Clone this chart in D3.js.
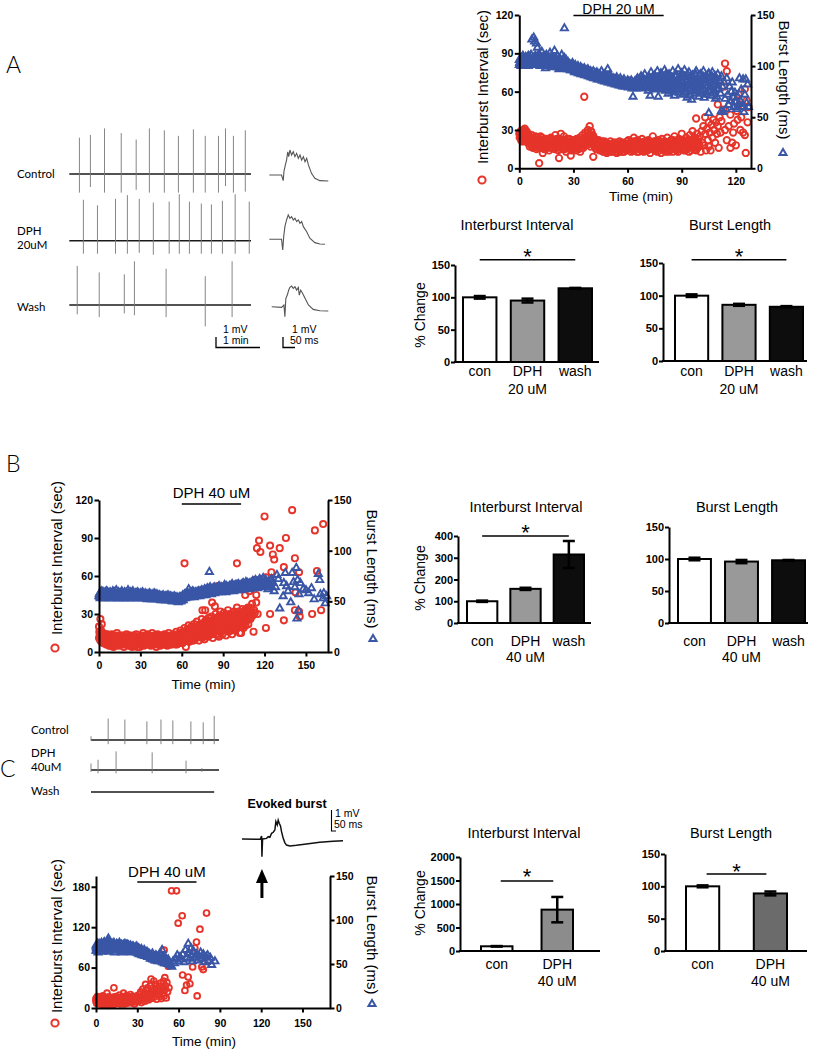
<!DOCTYPE html>
<html><head><meta charset="utf-8">
<script src="https://cdn.jsdelivr.net/npm/d3@7"></script>
<style>
body{margin:0;background:#fff;}
svg{display:block;}
.ax text{font-family:"Liberation Sans",Arial,sans-serif;font-weight:bold;fill:#000;}
</style></head><body>
<svg id="c" width="813" height="1050"></svg>
<script>
// ================= DATA =================
// Panel A time course: [time (min), interburst interval (sec)] and [time (min), burst length (ms)]
const scatterA_ibi = [[0,27],[0.5,25],[1,28],[1,22],[1.5,26],[2,29],[2,23],[2.5,27],[3,31],[3,24],[3.5,28],[4,21],[4,29],[4.5,25],[5,23],[5,27],
[5.5,20],[6,24],[6.5,18],[7,26],[7,21],[7.5,16],[8,23],[8.5,19],[9,25],[9.5,15],[10,21],[10.5,18],[11,4],[11,23],[11.5,16],[12,20],[12.5,24],[13,12],[13,17],[13.5,21],[14,19],[14.5,15],[15,23],[15.5,18],[16,21],[16.5,14],[17,19],[17.5,24],[18,16],[18.5,20],[19,22],[19.5,15],[20,26],[20.5,18],[21,20],[21.5,14],[22,8],[22,23],[22.5,17],[23,27],[23.5,19],[24,15],[24.5,22],[25,17],[25.5,20],[26,13],[26.5,23],[27,18],[27.5,16],[28,21],[28.5,10],[29,19],[29.5,15],[30,20],
[30.5,17],[31,22],[31.5,14],[32,19],[32.5,21],[33,15],[33.5,24],[34,18],[34.5,20],[35,26],[35.5,16],[36,56],[36,22],[36.5,28],[37,19],[37.5,25],[38,30],[38.5,21],[39,33],[39,26],[39.5,17],[40,28],[40.5,22],[41,9],[41,25],[41.5,18],[42,23],[42.5,15],[43,20],[43.5,17],[44,22],[44.5,14],[45,19],
[45.5,16],[46,21],[46.5,13],[47,18],[47.5,15],[48,20],[48.5,12],[49,17],[49.5,19],[50,14],[50.5,21],[51,16],[51.5,13],[52,18],[52.5,20],[53,15],[53.5,17],[54,12],[54.5,19],[55,16],[55.5,21],[56,14],[56.5,18],[57,15],[57.5,20],[58,13],[58.5,17],[59,19],[59.5,14],[60,18],
[60.5,22],[61,15],[61.5,19],[62,13],[62.5,21],[63,17],[63.5,24],[64,14],[64.5,19],[65,16],[65.5,22],[66,13],[66.5,18],[67,20],[67.5,15],[68,23],[68.5,17],[69,13],[69.5,21],[70,16],[70.5,19],[71,14],[71.5,22],[72,18],[72.5,12],[73,20],[73.5,16],[74,25],[74.5,18],[75,14],[75.5,21],[76,17],[76.5,13],[77,22],[77.5,16],[78,19],[78.5,12],[79,23],[79.5,17],[80,15],[80.5,21],[81,13],[81.5,18],[82,24],[82.5,16],[83,20],[83.5,14],[84,22],[84.5,17],[85,13],[85.5,19],[86,25],[86.5,15],[87,21],[87.5,18],[88,13],[88.5,23],[89,17],[89.5,20],[90,27],[90.5,15],[91,22],[91.5,19],[92,14],[92.5,24],[93,17],[93.5,21],[94,13],[94.5,26],[95,18],[95.5,22],[96,29],[96.5,16],[97,24],[97.5,20],[98,39],[98,14],[98.5,27],[99,21],[99.5,17],[100,25],
[100.5,13],[101,29],[101.5,20],[102,33],[102.5,18],[103,40],[103,27],[103.5,14],[104,31],[104.5,22],[105,36],[105,17],[105.5,28],[106,14],[106.5,34],[107,24],[107.5,38],[108,30],[108.5,20],[109,36],[109.5,27],[110,50],[110,33],[110.5,16],[111,40],[111.5,28],[112,37],[113,46],[113.5,64],[114,82],[114,30],[115,76],[115,22],[116,33],[117,16],[117,42],[118,20],[118.5,28],[119,35],[119.5,52],[120,18],[120.5,45],[121,38],[121.5,58],[122,50],[122.5,30],[123,40],[124,28],[124.5,48],[125,62],[125,26],[125.5,12],[126,53],[126.5,36],[127,48]];
const scatterA_ibi_more = [[0.25,24],[0.75,29],[1.25,25],[1.75,21],[2.25,30],[2.75,25],[3.25,22],[3.75,27],[4.25,24],[4.75,20],
[5.25,25],[5.75,17],[6.25,22],[6.75,20],[7.25,24],[7.75,19],[8.25,17],[8.75,22],[9.25,20],[9.75,24],[10.25,16],[10.75,20],[11.25,19],[11.75,25],[12.25,17],[12.75,21],[13.25,19],[13.75,15],[14.25,23],[14.75,20],[15.25,17],[15.75,21],[16.25,18],[16.75,23],[17.25,16],[17.75,20],[18.25,22],[18.75,17],[19.25,18],[19.75,21],[20.25,16],[20.75,23],[21.25,18],[21.75,21],[22.25,15],[22.75,20],[23.25,22],[23.75,16],[24.25,19],[24.75,25],[25.25,15],[25.75,19],[26.25,21],[26.75,16],[27.25,20],[27.75,23],[28.25,17],[28.75,14],[29.25,22],[29.75,18],
[30.25,15],[30.75,19],[31.25,17],[31.75,23],[32.25,16],[32.75,18],[33.25,20],[33.75,13],[34.25,22],[34.75,16],[35.25,19],[35.75,23],[36.25,18],[36.75,24],[37.25,21],[37.75,27],[38.25,24],[38.75,19],[39.25,22],[39.75,29],[40.25,20],[40.75,26],[41.25,21],[41.75,17],[42.25,20],[42.75,18],[43.25,15],[43.75,21],[44.25,18],[44.75,16],
[45.25,20],[45.75,14],[46.25,18],[46.75,16],[47.25,21],[47.75,13],[48.25,17],[48.75,19],[49.25,14],[49.75,16],[50.25,18],[50.75,13],[51.25,19],[51.75,17],[52.25,14],[52.75,16],[53.25,20],[53.75,13],[54.25,17],[54.75,15],[55.25,18],[55.75,13],[56.25,20],[56.75,16],[57.25,13],[57.75,17],[58.25,19],[58.75,15],[59.25,17],[59.75,21],
[60.25,15],[60.75,18],[61.25,20],[61.75,16],[62.25,18],[62.75,14],[63.25,20],[63.75,17],[64.25,21],[64.75,16],[65.25,13],[65.75,19],[66.25,21],[66.75,15],[67.25,17],[67.75,19],[68.25,14],[68.75,20],[69.25,17],[69.75,15],[70.25,21],[70.75,14],[71.25,18],[71.75,16],[72.25,21],[72.75,15],[73.25,18],[73.75,20],[74.25,15],[74.75,21],[75.25,17],[75.75,19],[76.25,15],[76.75,20],[77.25,18],[77.75,14],[78.25,21],[78.75,17],[79.25,15],[79.75,20],[80.25,18],[80.75,16],[81.25,20],[81.75,15],[82.25,19],[82.75,13],[83.25,17],[83.75,21],[84.25,15],[84.75,19],[85.25,22],[85.75,16],[86.25,18],[86.75,20],[87.25,14],[87.75,22],[88.25,17],[88.75,15],[89.25,19],[89.75,16],[90.25,21],[90.75,18],[91.25,14],[91.75,20],[92.25,17],[92.75,15],[93.25,22],[93.75,18],[94.25,16],[94.75,20],[95.25,14],[95.75,19],[96.25,23],[96.75,19],[97.25,15],[97.75,22],[98.25,18],[98.75,16],[99.25,23],[99.75,19]];
const scatterA_bl = [[0,101],[0,106],[0.5,104],[1,108],[1,100],[1.5,105],[2,110],[2,102],[2.5,107],[3,104],[3.5,109],[3.5,101],[4,106],[4.5,103],[5,110],[5,100],
[5.5,107],[6,104],[6.5,111],[7,126],[7,102],[7.5,108],[8,128],[8,105],[8.5,124],[9,110],[9,101],[9.5,122],[10,107],[10,118],
[10.5,104],[11,112],[11.5,100],[12,108],[12.5,114],[13,103],[13.5,110],[14,106],[14.5,98],[15,111],[15.5,104],[16,108],[16.5,101],[17,113],[17.5,105],[18,99],[18.5,109],[19,103],[19.5,115],[20,106],[20.5,100],[21,110],[21.5,104],[22,97],[22.5,107],[23,101],[23.5,111],[24,104],[24.5,98],[25,137],[25,108],[25.5,102],
[26,106],[26.5,99],[27,104],[27.5,97],[28,102],[28.5,100],[29,96],[29.5,103],[30,99],[30.5,95],[31,101],[31.5,98],[32,94],[32.5,100],[33,96],[33.5,93],[34,99],[34.5,95],[35,97],[35.5,92],[36,98],[36.5,94],[37,96],[37.5,91],[38,97],[38.5,93],[39,90],[39.5,95],[40,92],
[40.5,89],[41,95],[41.5,91],[42,93],[42.5,88],[43,94],[43.5,90],[44,92],[44.5,87],[45,91],[45.5,95],[46,89],[46.5,86],[47,92],[47.5,88],[48,90],[48.5,85],[49,97],[49.5,87],[50,91],[50.5,84],[51,89],[51.5,86],[52,88],[52.5,83],[53,87],[53.5,85],[54,89],[54.5,82],[55,86],[55.5,84],[56,88],[56.5,81],[57,85],[57.5,83],[58,87],[58.5,80],[59,84],[59.5,82],[60,86],
[60.5,79],[61,84],[61.5,81],[62,86],[62.5,78],[63,70],[63,83],[63.5,80],[64,85],[64.5,78],[65,82],[65.5,88],[66,79],[66.5,84],[67,81],[67.5,90],[68,78],[68.5,85],[69,82],[69.5,92],[70,79],[70.5,87],[71,83],[71.5,76],[72,89],[72.5,71],[72.5,81],[73,94],[73.5,78],[74,86],[74.5,82],[75,91],[75.5,77],[76,84],[76.5,95],[77,70],[77,80],[77.5,88],[78,83],[78.5,93],[79,77],[79.5,86],[80,81],
[80.5,96],[81,76],[81.5,89],[82,84],[82.5,73],[83,92],[83.5,80],[84,87],[84.5,75],[85,95],[85.5,82],[86,71],[86.5,90],[87,78],[87.5,86],[88,97],[88.5,74],[89,88],[89.5,80],[90,93],[90.5,72],[91,85],[91.5,96],[92,77],[92.5,89],[93,69],[93.5,82],[94,94],[94.5,76],[95,87],[95.5,67],[96,91],[96.5,80],[97,85],[97.5,73],[98,95],[98.5,78],[99,88],[99.5,70],[100,83],
[100.5,92],[101,76],[101.5,87],[102,95],[102.5,69],[103,83],[103.5,90],[104,74],[104.5,86],[105,54],[105,93],[105.5,79],[106,88],[106.5,71],[107,94],[107.5,82],[108,76],[108.5,90],[109,85],[109.5,70],[110,92],[110.5,78],[111,86],[111.5,73],[112,56],[112,90],[112.5,80],[113,55],[113.5,84],[114,68],[114.5,58],[115,88],[115.5,72],[116,62],[116.5,80],[117,66],[117.5,75],[118,84],[118.5,69],[119,60],[119.5,74],[120,65],[120.5,58],[121,70],[121.5,63],[122,88],[122.5,66],[123,77],[123.5,60],[124,87],[124.5,55],[125,72],[125.5,87],[126,64],[126.5,82],[127,60]];
const scatterA_bl_more = [[0.25,103],[0.75,107],[1.25,102],[1.75,109],[2.25,104],[2.75,100],[3.25,106],[3.75,103],[4.25,108],[4.75,105],[5.25,102],[5.75,109],[6.25,105],[6.75,101],[7.25,106],[7.75,103],[8.25,109],[8.75,104],[9.25,106],[9.75,102],[10.25,109],[10.75,105],[11.25,108],[11.75,103],[12.25,106],[12.75,101],[13.25,107],[13.75,104],[14.25,109],[14.75,102],[15.25,106],[15.75,100],[16.25,105],[16.75,108],[17.25,102],[17.75,107],[18.25,104],[18.75,101],[19.25,107],[19.75,103],[20.25,108],[20.75,104],[21.25,99],[21.75,106],[22.25,102],[22.75,104],[23.25,98],[23.75,106],[24.25,101],[24.75,103],
[25.25,99],[25.75,104],[26.25,101],[26.75,97],[27.25,102],[27.75,99],[28.25,96],[28.75,101],[29.25,98],[29.75,100],[30.25,97],[30.75,94],[31.25,99],[31.75,96],[32.25,98],[32.75,93],[33.25,97],[33.75,95],[34.25,92],[34.75,97],[35.25,94],[35.75,96],[36.25,91],[36.75,95],[37.25,93],[37.75,95],[38.25,90],[38.75,94],[39.25,92],[39.75,89],[40.25,93],[40.75,91],[41.25,88],[41.75,92],[42.25,90],[42.75,92],[43.25,87],[43.75,91],[44.25,89],[44.75,91],[45.25,88],[45.75,86],[46.25,90],[46.75,88],[47.25,85],[47.75,89],[48.25,87],[48.75,89],[49.25,84],[49.75,88],[50.25,86],[50.75,88],[51.25,83],[51.75,87],[52.25,85],[52.75,87],[53.25,82],[53.75,86],[54.25,84],[54.75,86],[55.25,81],[55.75,85],[56.25,83],[56.75,85],[57.25,80],[57.75,84],[58.25,82],[58.75,84],[59.25,80],[59.75,83],
[60.25,82],[60.75,85],[61.25,80],[61.75,83],[62.25,81],[62.75,84],[63.25,79],[63.75,82],[64.25,81],[64.75,86],[65.25,79],[65.75,83],[66.25,81],[66.75,87],[67.25,80],[67.75,84],[68.25,82],[68.75,88],[69.25,80],[69.75,85],[70.25,83],[70.75,80],[71.25,88],[71.75,84],[72.25,79],[72.75,86],[73.25,82],[73.75,89],[74.25,80],[74.75,84],[75.25,87],[75.75,81],[76.25,78],[76.75,86],[77.25,83],[77.75,79],[78.25,87],[78.75,81],[79.25,90],[79.75,78],[80.25,85],[80.75,80],[81.25,92],[81.75,79],[82.25,86],[82.75,82],[83.25,77],[83.75,90],[84.25,83],[84.75,79],[85.25,88],[85.75,76],[86.25,84],[86.75,81],[87.25,91],[87.75,77],[88.25,85],[88.75,82],[89.25,76],[89.75,89],[90.25,83],[90.75,79],[91.25,90],[91.75,81],[92.25,74],[92.75,86],[93.25,92],[93.75,78],[94.25,84],[94.75,71],[95.25,90],[95.75,80],[96.25,75],[96.75,88],[97.25,82],[97.75,92],[98.25,76],[98.75,85],[99.25,79],[99.75,91],[100.25,74],[100.75,85],[101.25,80],[101.75,90],[102.25,77],[102.75,86],[103.25,72],[103.75,88],[104.25,80],[104.75,92],[105.25,75],[105.75,84],[106.25,79],[106.75,90],[107.25,73],[107.75,86],[108.25,81],[108.75,68],[109.25,88],[109.75,77]];
const drugA = [30, 80];

// Panel B time course
const scatterB_ibi = [[0,11],[0,20],[0.5,14],[1,9],[1,26],[1.5,17],[2,12],[2,22],[2.5,8],[3,15],[3.5,10],[4,13],[4.5,7],[5,11],
[5.5,9],[6,14],[6.5,6],[7,11],[7.5,8],[8,13],[8.5,5],[9,10],[9.5,7],[10,12],[10.5,4],[11,9],[11.5,13],[12,6],[12.5,10],[13,15],[13.5,7],[14,11],[14.5,5],[15,9],[15.5,12],[16,6],[16.5,10],[17,8],[17.5,13],[18,4],[18.5,9],[19,11],[19.5,6],[20,14],[20.5,8],[21,10],[21.5,5],[22,12],[22.5,7],[23,9],[23.5,13],[24,4],[24.5,10],[25,8],[25.5,11],[26,5],[26.5,9],[27,14],[27.5,6],[28,10],[28.5,8],[29,12],[29.5,4],[30,9],[30.5,13],[31,7],[31.5,10],[32,15],[32.5,5],[33,11],[33.5,8],[34,13],[34.5,6],[35,10],[35.5,14],[36,7],[36.5,9],[37,12],[37.5,5],[38,10],[38.5,15],[39,8],[39.5,11],[40,6],[40.5,13],[41,9],[41.5,4],[42,11],[42.5,14],[43,7],[43.5,10],[44,12],[44.5,5],[45,9],[45.5,13],[46,7],[46.5,11],[47,8],[47.5,14],[48,6],[48.5,10],[49,12],[49.5,5],[50,9],[50.5,15],[51,7],[51.5,11],[52,13],[52.5,6],[53,10],[53.5,8],[54,14],[54.5,7],[55,11],[55.5,9],[56,16],[56.5,6],[57,12],[57.5,10],[58,14],[58.5,8],[59,17],[59.5,11],[60,13],
[60.5,7],[61,16],[61.5,10],[62,70],[62,19],[62.5,12],[63,4],[63,15],[63.5,9],[64,18],[64.5,13],[65,21],[65.5,8],[66,16],[66.5,11],[67,20],[67.5,14],[68,17],[68.5,9],[69,22],[69.5,13],[70,18],[70.5,11],[71,24],[71.5,15],[72,20],[72.5,9],[73,17],[73.5,22],[74,12],[74.5,26],[75,33],[75,18],[75.5,14],[76,21],[76.5,10],[77,33],[77,19],[77.5,25],[78,15],[78.5,22],[79,12],[79.5,27],[80,18],[80.5,23],[81,14],[81.5,28],[82,39],[82,20],[82.5,11],[83,25],[83.5,17],[84,36],[84,22],[84.5,30],[85,14],[85.5,26],[86,52],[86,19],[86.5,24],[87,12],[87.5,29],[88,32],[88,21],[88.5,17],[89,27],[89.5,14],[90,23],
[90.5,31],[91,18],[91.5,26],[92,13],[92.5,29],[93,21],[93.5,33],[94,16],[94.5,25],[95,19],[95.5,30],[96,22],[96.5,14],[97,27],[97.5,20],[98,32],[98.5,17],[99,25],[99.5,22],[100,70],[100,35],[100.5,19],[101,28],[101.5,23],[102,15],[102.5,30],[103,15],[103,24],[103.5,20],[104,34],[104.5,26],[105,22],[105.5,31],[106,45],[106,28],[106.5,24],[107,33],[107.5,29],[108,35],[108.5,26],[109,48],[109.5,31],[110,27],[110.5,34],[111,38],[111.5,29],[112,16],[112.5,33],[113,57],[113,31],[114,45],[114,39],[114.5,82],[115,30],[116,88],[117,79],
[120,107],[121,59],[121,19],[124,84],[124,30],[125,63],[126,77],[127,73],[131,82],[134,67],[134,25],[135.5,90],[140,112],[142,74],[142,33],[142.5,47],[145,63],[145,32],[145.5,28],[154.5,30],[156.5,96],[158,64],[161,33],[162.5,101]];
const scatterB_ibi_more = [[0.25,16],[0.75,10],[1.25,13],[1.75,8],[2.25,15],[2.75,11],[3.25,7],[3.75,12],[4.25,9],[4.75,14],[5.25,6],[5.75,11],[6.25,9],[6.75,13],[7.25,5],[7.75,10],[8.25,12],[8.75,8],[9.25,14],[9.75,6],[10.25,10],[10.75,8],[11.25,11],[11.75,5],[12.25,12],[12.75,8],[13.25,10],[13.75,13],[14.25,8],[14.75,11],[15.25,6],[15.75,10],[16.25,13],[16.75,7],[17.25,10],[17.75,6],[18.25,12],[18.75,7],[19.25,9],[19.75,12],[20.25,6],[20.75,11],[21.25,8],[21.75,13],[22.25,9],[22.75,5],[23.25,11],[23.75,7],[24.25,12],[24.75,6],[25.25,10],[25.75,13],[26.25,7],[26.75,11],[27.25,9],[27.75,4],[28.25,12],[28.75,7],[29.25,10],[29.75,8],[30.25,11],[30.75,6],[31.25,12],[31.75,8],[32.25,10],[32.75,13],[33.25,6],[33.75,10],[34.25,9],[34.75,12],[35.25,7],[35.75,11],[36.25,13],[36.75,6],[37.25,10],[37.75,8],[38.25,12],[38.75,6],[39.25,10],[39.75,13],[40.25,9],[40.75,7],[41.25,12],[41.75,8],[42.25,6],[42.75,11],[43.25,13],[43.75,8],[44.25,10],[44.75,7],[45.25,11],[45.75,6],[46.25,13],[46.75,9],[47.25,11],[47.75,7],[48.25,12],[48.75,8],[49.25,10],[49.75,13],[50.25,7],[50.75,11],[51.25,9],[51.75,6],[52.25,10],[52.75,12],[53.25,7],[53.75,11],[54.25,9],[54.75,12],[55.25,6],[55.75,13],[56.25,10],[56.75,8],[57.25,14],[57.75,7],[58.25,11],[58.75,12],[59.25,9],[59.75,15],
[60.25,10],[60.75,13],[61.25,8],[61.75,14],[62.25,11],[62.75,16],[63.25,12],[63.75,14],[64.25,10],[64.75,16],[65.25,12],[65.75,18],[66.25,13],[66.75,9],[67.25,17],[67.75,11],[68.25,15],[68.75,19],[69.25,10],[69.75,16],[70.25,14],[70.75,20],[71.25,12],[71.75,18],[72.25,14],[72.75,21],[73.25,13],[73.75,16],[74.25,19],[74.75,11],[75.25,22],[75.75,17],[76.25,15],[76.75,24],[77.25,13],[77.75,20],[78.25,17],[78.75,25],[79.25,16],[79.75,13],[80.25,21],[80.75,16],[81.25,24],[81.75,18],[82.25,14],[82.75,22],[83.25,19],[83.75,27],[84.25,16],[84.75,20],[85.25,24],[85.75,18],[86.25,13],[86.75,27],[87.25,21],[87.75,16],[88.25,25],[88.75,19],[89.25,22],[89.75,28],[90.25,17],[90.75,21],[91.25,29],[91.75,23],[92.25,17],[92.75,25],[93.25,19],[93.75,27],[94.25,22],[94.75,30],[95.25,24],[95.75,17],[96.25,26],[96.75,31],[97.25,23],[97.75,18],[98.25,28],[98.75,24],[99.25,20],[99.75,30],[100.25,26],[100.75,22],[101.25,32],[101.75,25],[102.25,20],[102.75,27],[103.25,29],[103.75,23],[104.25,30],[104.75,19],[105.25,27],[105.75,33],[106.25,21],[106.75,30],[107.25,25],[107.75,32],[108.25,22],[108.75,30],[109.25,35],[109.75,26]];
const scatterB_bl = [[0,55],[0.5,58],[1,53],[1.5,57],[2,60],[2.5,54],[3,56],[3.5,59],[4,53],[4.5,57],[5,55],[5.5,60],[6,54],[6.5,58],[7,56],[7.5,53],[8,59],[8.5,55],[9,57],[9.5,54],[10,60],[10.5,56],[11,53],[11.5,58],[12,55],[12.5,61],[13,54],[13.5,57],[14,59],[14.5,53],[15,56],[15.5,58],[16,54],[16.5,60],[17,55],[17.5,57],[18,53],[18.5,59],[19,56],[19.5,54],[20,58],[20.5,55],[21,61],[21.5,53],[22,57],[22.5,55],[23,59],[23.5,54],[24,56],[24.5,60],[25,53],[25.5,57],[26,55],[26.5,58],[27,54],[27.5,56],[28,59],[28.5,53],[29,57],[29.5,55],[30,58],[30.5,54],[31,56],[31.5,59],[32,53],[32.5,57],[33,55],[33.5,58],[34,54],[34.5,56],[35,52],[35.5,57],[36,55],[36.5,58],[37,53],[37.5,56],[38,54],[38.5,57],[39,52],[39.5,55],[40,58],[40.5,53],[41,56],[41.5,54],[42,57],[42.5,52],[43,55],[43.5,53],[44,56],[44.5,54],[45,51],[45.5,55],[46,53],[46.5,56],[47,52],[47.5,54],[48,55],[48.5,51],[49,54],[49.5,53],[50,56],[50.5,52],[51,54],[51.5,51],[52,55],[52.5,53],[53,50],[53.5,54],[54,52],[54.5,55],[55,51],[55.5,53],[56,50],[56.5,54],[57,52],[57.5,49],[58,53],[58.5,51],[59,54],[59.5,50],[60,52],
[60.5,55],[61,51],[61.5,54],[62,57],[62.5,53],[63,56],[63.5,54],[64,58],[64.5,55],[65,62],[65.5,56],[66,54],[66.5,58],[67,55],[67.5,57],[68,60],[68.5,56],[69,54],[69.5,58],[70,57],[70.5,55],[71,59],[71.5,56],[72,60],[72.5,57],[73,55],[73.5,59],[74,58],[74.5,61],[75,56],[75.5,59],[76,57],[76.5,62],[77,58],[77.5,56],[78,60],[78.5,63],[79,58],[79.5,61],[80,79],[80,59],[80.5,64],[81,60],[81.5,57],[82,62],[82.5,59],[83,61],[83.5,64],[84,58],[84.5,62],[85,60],[85.5,63],[86,59],[86.5,61],[87,65],[87.5,60],[88,62],[88.5,59],[89,64],[89.5,61],[90,63],[90.5,60],[91,66],[91.5,62],[92,59],[92.5,64],[93,61],[93.5,63],[94,60],[94.5,65],[95,62],[95.5,64],[96,61],[96.5,67],[97,63],[97.5,60],[98,65],[98.5,62],[99,64],[99.5,66],[100,61],[100.5,63],[101,67],[101.5,62],[102,65],[102.5,64],[103,61],[103.5,66],[104,63],[104.5,68],[105,64],[105.5,62],[106,66],[106.5,69],[107,63],[107.5,65],[108,67],[108.5,64],[109,62],[109.5,68],[110,65],
[110.5,67],[111,63],[111.5,70],[112,65],[112.5,68],[113,64],[113.5,71],[114,66],[114.5,69],[115,63],[116,68],[116.5,72],[117,65],[118,70],[118.5,66],[119,73],[120,68],[120.5,64],[121,71],[122,67],[122.5,62],[123,69],[124,66],[125,72],[126,68],
[127,60],[128,64],[129,76],[130,72],[131,43],[133.5,55],[134,68],[135,78],[136,65],[137,60],[139,49],[140,78],[141,69],[142,64],[143,83],[143.5,33],[144,71],[144.5,41],[145,57],[146,68],[148,62],[150,61],[152,58],[154,63],[156,52],[159,77],[160,71],[160.5,57],[162.5,53],[163,58],[164,48],[165,55]];
const scatterB_bl_more = [[0.25,57],[0.75,54],[1.25,59],[1.75,55],[2.25,56],[2.75,58],[3.25,53],[3.75,57],[4.25,55],[4.75,59],[5.25,54],[5.75,56],[6.25,59],[6.75,55],[7.25,57],[7.75,54],[8.25,58],[8.75,56],[9.25,53],[9.75,58],[10.25,55],[10.75,57],[11.25,59],[11.75,54],[12.25,57],[12.75,55],[13.25,58],[13.75,53],[14.25,56],[14.75,58],[15.25,54],[15.75,57],[16.25,55],[16.75,58],[17.25,53],[17.75,56],[18.25,57],[18.75,54],[19.25,58],[19.75,56],[20.25,53],[20.75,57],[21.25,55],[21.75,58],[22.25,54],[22.75,56],[23.25,57],[23.75,53],[24.25,58],[24.75,55],[25.25,56],[25.75,54],[26.25,57],[26.75,55],[27.25,58],[27.75,53],[28.25,56],[28.75,57],[29.25,54],[29.75,56],[30.25,55],[30.75,57],[31.25,53],[31.75,55],[32.25,57],[32.75,54],[33.25,56],[33.75,53],[34.25,57],[34.75,55],[35.25,54],[35.75,56],[36.25,53],[36.75,55],[37.25,57],[37.75,52],[38.25,55],[38.75,54],[39.25,56],[39.75,53],[40.25,55],[40.75,57],[41.25,52],[41.75,55],[42.25,54],[42.75,56],[43.25,52],[43.75,54],[44.25,55],[44.75,52],[45.25,54],[45.75,53],[46.25,55],[46.75,51],[47.25,54],[47.75,53],[48.25,52],[48.75,55],[49.25,51],[49.75,54],[50.25,53],[50.75,55],[51.25,52],[51.75,53],[52.25,51],[52.75,54],[53.25,52],[53.75,50],[54.25,53],[54.75,51],[55.25,54],[55.75,52],[56.25,51],[56.75,53],[57.25,50],[57.75,52],[58.25,54],[58.75,50],[59.25,52],[59.75,53],
[60.25,53],[60.75,56],[61.25,53],[61.75,55],[62.25,55],[62.75,57],[63.25,54],[63.75,56],[64.25,57],[64.75,54],[65.25,58],[65.75,56],[66.25,57],[66.75,55],[67.25,59],[67.75,56],[68.25,58],[68.75,57],[69.25,56],[69.75,59],[70.25,56],[70.75,58],[71.25,57],[71.75,59],[72.25,58],[72.75,56],[73.25,60],[73.75,57],[74.25,59],[74.75,58],[75.25,60],[75.75,57],[76.25,59],[76.75,58],[77.25,61],[77.75,59],[78.25,58],[78.75,60],[79.25,62],[79.75,59],[80.25,61],[80.75,58],[81.25,62],[81.75,60],[82.25,61],[82.75,63],[83.25,59],[83.75,62],[84.25,61],[84.75,60],[85.25,62],[85.75,61],[86.25,63],[86.75,60],[87.25,62],[87.75,64],[88.25,61],[88.75,63],[89.25,62],[89.75,60],[90.25,64],[90.75,62],[91.25,63],[91.75,61],[92.25,65],[92.75,62],[93.25,64],[93.75,62],[94.25,63],[94.75,61],[95.25,65],[95.75,63],[96.25,64],[96.75,62],[97.25,65],[97.75,63],[98.25,64],[98.75,66],[99.25,63],[99.75,64],[100.25,66],[100.75,64],[101.25,65],[101.75,63],[102.25,66],[102.75,65],[103.25,64],[103.75,67],[104.25,65],[104.75,64],[105.25,66],[105.75,65],[106.25,67],[106.75,64],[107.25,66],[107.75,68],[108.25,65],[108.75,66],[109.25,67],[109.75,64],[110.25,66],[110.75,68],[111.25,65],[111.75,67],[112.25,69],[112.75,66],[113.25,67],[113.75,65],[114.25,68],[114.75,66],[115.5,70],[116,65],[117.5,68],[119.5,67],[121.5,69],[123.5,65],[124.5,70]];
const drugB = [60, 103];

// Panel C time course
const scatterC_ibi = [[0,10],[0,14],[0.5,7],[1,12],[1,17],[1.5,9],[2,13],[2.5,6],[3,11],[3,16],[3.5,8],[4,14],[4.5,10],[5,18],[5,5],[5.5,12],[6,9],[6.5,15],[7,7],[7.5,11],[8,22],[8,4],[8.5,13],[9,9],[9.5,16],[10,6],[10.5,12],[11,8],[11.5,15],[12,10],[12.5,5],[13,30],[13,14],[13.5,9],[14,12],[14.5,17],[15,7],[15.5,11],[16,14],[16.5,9],[17,19],[17.5,6],[18,13],[18.5,10],[19,16],[19.5,8],[20,22],[20,12],[20.5,6],[21,15],[21.5,10],[22,18],[22.5,7],[23,13],[23.5,9],[24,16],[24.5,11],[25,20],[25.5,8],[26,14],[26.5,10],[27,17],[27.5,12],[28,6],[28.5,13],[29,9],[29.5,16],[30,11],
[30.5,15],[31,10],[31.5,20],[32,13],[32.5,24],[33,8],[33.5,18],[34,28],[34.5,14],[35,22],[35.5,10],[36,35],[36,19],[36.5,26],[37,15],[37.5,30],[38,12],[38.5,22],[39,18],[39.5,33],[40,43],[40,14],[40.5,25],[41,20],[41.5,30],[42,40],[42,16],[42.5,27],[43,22],[43.5,35],[44,13],[44.5,28],[45,19],[45.5,24],[46,32],[46.5,17],[47,37],[47,26],[47.5,14],[48,30],[48.5,21],[49,40],[49.5,86],[49.5,18],[50,45],[50,27],[50.5,33],[51,15],[51.5,38],[52,24],[52.5,62],[53,30],
[54.9,174],[58.5,174],[59.7,126],[62.6,137],[62.9,49],[64.6,26],[65.8,34],[67,46],[68.2,36],[70.2,61],[71.8,89],[73,98],[73.5,18],[75.5,117],[76.9,61],[77.9,57],[80.3,141],[81.5,69]];
const scatterC_ibi_more = [[0.25,12],[0.75,15],[1.25,8],[1.75,14],[2.25,10],[2.75,13],[3.25,9],[3.75,12],[4.25,7],[4.75,13],[5.25,10],[5.75,15],[6.25,8],[6.75,12],[7.25,14],[7.75,9],[8.25,11],[8.75,16],[9.25,12],[9.75,8],[10.25,14],[10.75,10],[11.25,13],[11.75,7],[12.25,12],[12.75,16],[13.25,11],[13.75,14],[14.25,9],[14.75,13],[15.25,16],[15.75,9],[16.25,12],[16.75,15],[17.25,10],[17.75,14],[18.25,8],[18.75,15],[19.25,11],[19.75,13],[20.25,9],[20.75,17],[21.25,12],[21.75,8],[22.25,14],[22.75,11],[23.25,16],[23.75,10],[24.25,13],[24.75,8],[25.25,15],[25.75,12],[26.25,17],[26.75,9],[27.25,14],[27.75,11],[28.25,16],[28.75,10],[29.25,13],[29.75,18]];
const scatterC_bl = [[0,65],[0,71],[0.5,68],[1,73],[1.5,63],[2,70],[2.5,66],[3,72],[3.5,67],[4,74],[4.5,64],[5,71],[5.5,68],[6,75],[6.5,66],[7,72],[7.5,70],[8,73],[8.5,67],[9,79],[9.5,64],[10,74],[10.5,69],[11,72],[11.5,66],[12,71],[12.5,68],[13,74],[13.5,63],[14,70],[14.5,67],[15,73],[15.5,65],[16,71],[16.5,68],[17,74],[17.5,66],[18,70],[18.5,72],[19,63],[19.5,69],[20,71],[20.5,67],[21,73],[21.5,65],[22,70],[22.5,68],[23,72],[23.5,64],[24,69],[24.5,67],[25,71],[25.5,63],[26,68],[26.5,66],[27,70],[27.5,64],[28,67],[28.5,69],[29,65],[29.5,70],[30,66],
[30.5,63],[31,68],[31.5,61],[32,66],[32.5,62],[33,67],[33.5,60],[34,64],[34.5,61],[35,66],[35.5,59],[36,63],[36.5,60],[37,64],[37.5,58],[38,62],[38.5,59],[39,61],[39.5,56],[40,60],[40.5,57],[41,62],[41.5,55],[42,59],[42.5,57],[43,54],[43.5,60],[44,56],[44.5,58],[45,53],[45.5,57],[46,55],[46.5,62],[47,54],[47.5,57],[48,66],[48.5,55],[49,52],[49.5,58],[50,54],[50.5,51],[51,56],[51.5,53],[52,50],[52.5,55],[53,52],[54,49],[55,47],[56,53],
[57,51],[58,56],[59,60],[60,53],[61,58],[62,55],[63,61],[64,52],[65,66],[66,57],[67,73],[67.5,63],[68,56],[69,68],[69.5,60],[70,53],[71,64],[72,57],[73,61],[74,54],[75,59],[76,63],[77,56],[78,61],[79,52],[80,58],[81,60],[82,54],[83,57],[84,49],[86.4,53]];
const scatterC_bl_more = [[0.25,69],[0.75,65],[1.25,70],[1.75,67],[2.25,73],[2.75,69],[3.25,66],[3.75,71],[4.25,69],[4.75,72],[5.25,66],[5.75,73],[6.25,70],[6.75,72],[7.25,68],[7.75,74],[8.25,70],[8.75,76],[9.25,71],[9.75,68],[10.25,72],[10.75,66],[11.25,70],[11.75,73],[12.25,67],[12.75,72],[13.25,69],[13.75,71],[14.25,66],[14.75,71],[15.25,69],[15.75,72],[16.25,67],[16.75,70],[17.25,72],[17.75,68],[18.25,66],[18.75,70],[19.25,67],[19.75,72],[20.25,69],[20.75,65],[21.25,70],[21.75,68],[22.25,72],[22.75,66],[23.25,69],[23.75,71],[24.25,66],[24.75,70],[25.25,68],[25.75,66],[26.25,70],[26.75,64],[27.25,68],[27.75,66],[28.25,64],[28.75,67],[29.25,68],[29.75,63],[30.25,66],[30.75,62],[31.25,65],[31.75,63],[32.25,64],[32.75,61],[33.25,64],[33.75,62],[34.25,63],[34.75,60],[35.25,63],[35.75,61],[36.25,62],[36.75,59],[37.25,61],[37.75,60],[38.25,58],[38.75,61],[39.25,59],[39.75,57],[40.25,59],[40.75,56],[41.25,58],[41.75,57],[42.25,55],[42.75,58],[43.25,56],[43.75,54],[44.25,57],[44.75,55],[45.25,56],[45.75,54],[46.25,57],[46.75,53],[47.25,56],[47.75,54],[48.25,52],[48.75,56],[49.25,54],[49.75,51],[50.25,55],[50.75,53],[51.25,52],[51.75,54]];
const drugC = [30, 73];

// Axis tick labels
const ticksIBI_AB = [0, 30, 60, 90, 120];
const ticksIBI_C = [0, 60, 120, 180];
const ticksBL = [0, 50, 100, 150];
const ticksTimeA = [0, 30, 60, 90, 120];
const ticksTimeBC = [0, 30, 60, 90, 120, 150];

// Bar summaries (% change, mean and SEM)
const catsABC = ["con", "DPH", "wash"];
const catsC = ["con", "DPH"];
const barA_ibi = [100, 95, 114];
const barA_ibi_sem = [2, 3, 0.6];
const barA_bl = [100, 86, 83];
const barA_bl_sem = [2, 1.5, 1];
const barB_ibi = [100, 157, 315];
const barB_ibi_sem = [3, 5, 62];
const barB_bl = [100, 96, 98];
const barB_bl_sem = [2, 2.5, 0.5];
const barC_ibi = [100, 880];
const barC_ibi_sem = [5, 270];
const barC_bl = [100, 89];
const barC_bl_sem = [1.5, 3];
const ticksPct150 = [0, 50, 100, 150];
const ticksPct400 = [0, 100, 200, 300, 400];
const ticksPct2000 = [0, 500, 1000, 1500, 2000];

// Example traces: spikes [time (min), up (mV), down (mV)]
const spikesA_ctrl = [[0.23,3.9,2.0],[0.48,4.2,1.4],[0.80,4.9,2.0],[1.18,4.4,2.0],[1.52,3.7,1.7],[1.82,4.9,2.0],[2.16,4.7,2.0],[2.48,4.1,2.0],[2.82,4.8,2.0],[3.09,4.1,2.0],[3.39,4.1,2.0],[3.55,4.9,1.3],[3.73,4.1,2.0],[4.0,4.7,1.9]];
const spikesA_dph = [[0.32,4.4,1.4],[0.64,3.8,1.4],[1.05,4.5,1.4],[1.32,4.9,1.4],[1.59,4.5,1.3],[1.91,4.1,1.5],[2.27,4.2,1.4],[2.5,5.0,1.4],[2.73,4.2,1.4],[3.0,4.0,1.4],[3.23,3.9,1.4],[3.48,4.3,1.4],[3.77,5.0,1.4],[4.09,4.2,1.4]];
const spikesA_wash = [[0.18,4.2,1.0],[0.68,3.5,1.3],[1.25,3.3,0.9],[1.48,4.7,1.1],[2.2,3.9,1.3],[3.09,3.1,2.3],[3.7,4.7,1.3]];
const traceDurA = [4.13, 4.13, 4.13];
const spikesC_ctrl = [[0.0,0.4,0.1],[0.39,2.3,0.45],[0.77,2.2,0.45],[1.27,2.0,0.45],[1.59,2.2,0.45],[1.86,2.1,0.45],[2.27,2.0,0.45],[2.55,1.9,0.45],[2.8,2.6,0.45]];
const spikesC_dph = [[0.0,0.7,0.2],[0.16,1.1,0.36],[0.57,2.0,0.36],[1.39,1.9,0.36],[2.16,1.0,0.36],[2.52,0.2,0.2]];
const spikesC_wash = [];
const traceDurC = [2.91, 2.91, 2.8];

// Averaged bursts: [time (ms), mV]
const burstA_ctrl = [[0,0],[51,0],[58,-0.61],[61,0.36],[67,1.08],[72,1.6],[77,2.5],[81,1.97],[86,2.69],[93,2.15],[100,2.5],[107,1.97],[114,2.33],[121,1.79],[128,2.15],[135,1.6],[142,1.97],[149,1.43],[156,1.79],[163,1.08],[176,0.18],[190,-0.36],[211,-0.61],[246,-0.65]];
const burstA_dph = [[0,0],[51,0],[56,-1.15],[60,0.29],[65,1.36],[72,2.08],[79,2.62],[86,2.26],[93,2.44],[100,2.08],[107,2.26],[114,1.9],[121,2.08],[128,1.72],[135,1.9],[142,1.36],[156,0.82],[169,0.11],[190,-0.36],[211,-0.5],[232,-0.54]];
const burstA_wash = [[10,0],[51,-0.07],[61,0.18],[65,-1.08],[69,0.9],[75,1.25],[81,1.79],[86,2.08],[93,2.22],[100,1.97],[107,2.15],[114,1.79],[121,2.08],[125,1.25],[131,1.79],[139,1.43],[149,0.9],[163,0.18],[183,-0.29],[211,-0.43],[246,-0.47]];
// Evoked burst (panel C): [time (ms), mV]; stimulus at 250 ms
const evoked = [[0,0],[228,-0.01],[246,0.14],[250,-0.84],[258,0],[308,0.03],[329,0.11],[350,0.08],[371,0.27],[392,0.32],[412,0.43],[425,0.83],[442,0.67],[454,0.9],[467,0.75],[483,0.62],[496,0.35],[517,0.03],[537,-0.17],[558,-0.29],[600,-0.33],[683,-0.3],[808,-0.24],[975,-0.16],[1142,-0.11],[1267,-0.08]];
const stimTime = 250;

// ================= DRAWING =================
const RED = "#e6342a", BLUE = "#3a56a6";
const ARIAL = "'Liberation Sans', Arial, Helvetica, sans-serif";
const GILL = "Lato, 'Open Sans', sans-serif";
const svg = d3.select("#c");
const tri = d3.symbol().type(d3.symbolTriangle).size(22);

function styleAxis(g, fs) {
  g.attr("class", "ax").attr("font-family", null).attr("font-size", fs);
  g.selectAll("path.domain").attr("stroke", "#000").attr("stroke-width", 2);
  g.selectAll(".tick line").attr("stroke", "#000").attr("stroke-width", 2);
}
function txt(g, s, x, y, o = {}) {
  const t = g.append("text").attr("x", x).attr("y", y).text(s)
    .style("font-family", o.ff || ARIAL).style("font-size", (o.fs || 14) + "px")
    .style("font-weight", o.fw || "normal").attr("text-anchor", o.anchor || "middle").attr("fill", "#000");
  if (o.rot) t.attr("x", null).attr("y", null).attr("transform", `translate(${x},${y}) rotate(${o.rot})`);
  return t;
}

function scatter(o) {
  const g = svg.append("g");
  const x = d3.scaleLinear().domain(o.xDomain).range(o.xRange);
  const yL = d3.scaleLinear().domain(o.yLDomain).range(o.yRange);
  const yR = d3.scaleLinear().domain(o.yRDomain).range(o.yRange);
  g.append("g").selectAll("circle").data(o.red).join("circle")
    .attr("cx", d => x(d[0])).attr("cy", d => yL(d[1])).attr("r", o.r)
    .attr("fill", "none").attr("stroke", RED).attr("stroke-width", 1.9);
  g.append("g").selectAll("path").data(o.blue).join("path")
    .attr("transform", d => `translate(${x(d[0])},${yR(d[1])})`).attr("d", tri)
    .attr("fill", "none").attr("stroke", BLUE).attr("stroke-width", 1.9);
  const xa = g.append("g").attr("transform", `translate(0,${o.yRange[0]})`)
    .call(d3.axisBottom(x).tickValues(o.xTicks).tickSize(4.5).tickSizeOuter(0).tickPadding(o.xPad));
  styleAxis(xa, 10.5);
  const la = g.append("g").attr("transform", `translate(${o.xRange[0]},0)`)
    .call(d3.axisLeft(yL).tickValues(o.yLTicks).tickSize(4.5).tickSizeOuter(0).tickPadding(1.5));
  styleAxis(la, 10.5);
  const ra = g.append("g").attr("transform", `translate(${o.xRange[1]},0)`)
    .call(d3.axisRight(yR).tickValues(o.yRTicks).tickSize(4.5).tickSizeOuter(0).tickPadding(1.5));
  styleAxis(ra, 10.5);
  // drug application bar
  g.append("line").attr("x1", x(o.drug[0])).attr("x2", x(o.drug[1])).attr("y1", o.drugY).attr("y2", o.drugY)
    .attr("stroke", "#000").attr("stroke-width", 1.5);
  txt(g, o.drugLabel, (x(o.drug[0]) + x(o.drug[1])) / 2, o.drugTextY, { fs: o.drugFs });
  txt(g, "Interburst Interval (sec)", o.lt[0], o.lt[1], { fs: 15, rot: -90 });
  txt(g, "Burst Length (ms)", o.rt[0], o.rt[1], { fs: 15, rot: 90 });
  txt(g, "Time (min)", o.tt[0], o.tt[1], { fs: 13.5 });
  g.append("circle").attr("cx", o.cm[0]).attr("cy", o.cm[1]).attr("r", 3.6)
    .attr("fill", "none").attr("stroke", RED).attr("stroke-width", 2);
  g.append("path").attr("transform", `translate(${o.tm[0]},${o.tm[1]})`).attr("d", tri)
    .attr("fill", "none").attr("stroke", BLUE).attr("stroke-width", 2);
}

scatter({ xDomain: [0, 128.4], xRange: [519.3, 751], yRange: [168.3, 15], yLDomain: [0, 120], yRDomain: [0, 150],
  xTicks: ticksTimeA, yLTicks: ticksIBI_AB, yRTicks: ticksBL, r: 3.2, xPad: 5,
  red: scatterA_ibi.concat(scatterA_ibi_more), blue: scatterA_bl.concat(scatterA_bl_more),
  drug: drugA, drugLabel: "DPH 20 uM", drugY: 15.5, drugTextY: 13.5, drugFs: 14,
  lt: [487.5, 87], rt: [778.5, 80], tt: [641, 201], cm: [482, 180], tm: [783, 153] });
scatter({ xDomain: [0, 166], xRange: [99, 328], yRange: [652, 500], yLDomain: [0, 120], yRDomain: [0, 150],
  xTicks: ticksTimeBC, yLTicks: ticksIBI_AB, yRTicks: ticksBL, r: 3.1, xPad: 5,
  red: scatterB_ibi.concat(scatterB_ibi_more), blue: scatterB_bl.concat(scatterB_bl_more),
  drug: drugB, drugLabel: "DPH 40 uM", drugY: 504, drugTextY: 498, drugFs: 15,
  lt: [61.5, 558], rt: [366.5, 569], tt: [203.5, 689], cm: [55, 648], tm: [373, 639] });
scatter({ xDomain: [0, 170], xRange: [96, 330], yRange: [1008, 876], yLDomain: [0, 196], yRDomain: [0, 150],
  xTicks: ticksTimeBC, yLTicks: ticksIBI_C, yRTicks: ticksBL, r: 2.9, xPad: 7,
  red: scatterC_ibi.concat(scatterC_ibi_more), blue: scatterC_bl.concat(scatterC_bl_more),
  drug: drugC, drugLabel: "DPH 40 uM", drugY: 882, drugTextY: 877, drugFs: 15,
  lt: [61.5, 936], rt: [366.5, 935], tt: [204, 1046], cm: [55, 1023], tm: [372, 1004] });

// ---- bar charts ----
function bars(o) {
  const g = svg.append("g");
  const x = d3.scaleBand().domain(o.cats).range(o.barRange).paddingInner(o.pad).paddingOuter(0);
  const y = d3.scaleLinear().domain(o.yDomain).range(o.yRange);
  const cx = c => x(c) + x.bandwidth() / 2;
  g.selectAll("rect").data(o.means).join("rect")
    .attr("x", (d, i) => x(o.cats[i])).attr("y", d => y(d)).attr("width", x.bandwidth())
    .attr("height", d => y(0) - y(d)).attr("fill", (d, i) => o.fills[i])
    .attr("stroke", "#000").attr("stroke-width", 2);
  const eb = g.append("g").attr("stroke", "#000").attr("stroke-width", 2.5);
  o.means.forEach((m, i) => {
    const c = cx(o.cats[i]), s = o.sems[i];
    eb.append("line").attr("x1", c).attr("x2", c).attr("y1", y(m - s)).attr("y2", y(m + s));
    [m - s, m + s].forEach(v => eb.append("line").attr("x1", c - 6).attr("x2", c + 6).attr("y1", y(v)).attr("y2", y(v)));
  });
  const ya = g.append("g").attr("transform", `translate(${o.axisX},0)`)
    .call(d3.axisLeft(y).tickValues(o.ticks).tickFormat(d3.format("d")).tickSize(4).tickSizeOuter(0).tickPadding(1));
  styleAxis(ya, 11);
  g.append("line").attr("x1", o.axisX - 1).attr("x2", o.axisEnd).attr("y1", y(0)).attr("y2", y(0))
    .attr("stroke", "#000").attr("stroke-width", 2);
  o.cats.forEach((c, i) => txt(g, c, cx(c), o.labY, { fs: 14 }));
  txt(g, o.sub, cx(o.cats[1]), o.subY, { fs: 14 });
  txt(g, o.title, o.titlePos[0], o.titlePos[1], { fs: 14.5 });
  if (o.ylab) txt(g, "% Change", o.ylab[0], o.ylab[1], { fs: 14, rot: -90 });
  if (o.sig) {
    const [i, j, lev] = o.sig, ly = y(lev);
    g.append("line").attr("x1", cx(o.cats[i]) + o.inset).attr("x2", cx(o.cats[j]) - o.inset)
      .attr("y1", ly).attr("y2", ly).attr("stroke", "#000").attr("stroke-width", 1.5);
    txt(g, "*", (cx(o.cats[i]) + cx(o.cats[j])) / 2, ly + o.starDy, { fs: 22 });
  }
}
const fills3 = ["#ffffff", "#999999", "#0d0d0d"];
bars({ cats: catsABC, means: barA_ibi, sems: barA_ibi_sem, fills: fills3, barRange: [463, 592], pad: 0.3,
  axisX: 455, axisEnd: 599, yDomain: [0, 150], yRange: [362, 265], ticks: ticksPct150,
  labY: 376, subY: 394, sub: "20 uM", title: "Interburst Interval", titlePos: [517, 230], ylab: [425, 315],
  sig: [0, 2, 158], inset: 0, starDy: 4 });
bars({ cats: catsABC, means: barA_bl, sems: barA_bl_sem, fills: fills3, barRange: [675, 803], pad: 0.3,
  axisX: 663, axisEnd: 807, yDomain: [0, 150], yRange: [361, 263], ticks: ticksPct150,
  labY: 376, subY: 394, sub: "20 uM", title: "Burst Length", titlePos: [730, 230],
  sig: [0, 2, 155], inset: 0, starDy: 4 });
bars({ cats: catsABC, means: barB_ibi, sems: barB_ibi_sem, fills: fills3, barRange: [467, 584], pad: 0.3,
  axisX: 458, axisEnd: 591, yDomain: [0, 400], yRange: [623, 536], ticks: ticksPct400,
  labY: 646, subY: 662, sub: "40 uM", title: "Interburst Interval", titlePos: [526, 512], ylab: [425, 578],
  sig: [0, 2, 400], inset: 0, starDy: 4 });
bars({ cats: catsABC, means: barB_bl, sems: barB_bl_sem, fills: fills3, barRange: [678, 805], pad: 0.3,
  axisX: 669, axisEnd: 808, yDomain: [0, 150], yRange: [623, 527], ticks: ticksPct150,
  labY: 646, subY: 662, sub: "40 uM", title: "Burst Length", titlePos: [737, 512] });
bars({ cats: catsC, means: barC_ibi, sems: barC_ibi_sem, fills: ["#ffffff", "#8c8c8c"], barRange: [481, 573], pad: 0.48,
  axisX: 460, axisEnd: 600, yDomain: [0, 2000], yRange: [951, 857], ticks: ticksPct2000,
  labY: 969, subY: 986, sub: "40 uM", title: "Interburst Interval", titlePos: [524, 838], ylab: [425, 903],
  sig: [0, 1, 1490], inset: 4, starDy: 3 });
bars({ cats: catsC, means: barC_bl, sems: barC_bl_sem, fills: ["#ffffff", "#6b6b6b"], barRange: [686, 787], pad: 0.51,
  axisX: 665, axisEnd: 807, yDomain: [0, 150], yRange: [951, 854], ticks: ticksPct150,
  labY: 969, subY: 986, sub: "40 uM", title: "Burst Length", titlePos: [731, 838],
  sig: [0, 1, 119], inset: 4, starDy: 5 });

// ---- traces ----
function trace(g, spikes, dur, x0, pxPerMin, base, pxPerMv) {
  const x = d3.scaleLinear().domain([0, dur]).range([x0, x0 + dur * pxPerMin]);
  const v = d3.scaleLinear().domain([0, 1]).range([base, base - pxPerMv]);
  g.append("line").attr("x1", x(0)).attr("x2", x(dur)).attr("y1", base).attr("y2", base)
    .attr("stroke", "#1a1a1a").attr("stroke-width", 1.5);
  g.append("g").selectAll("line").data(spikes).join("line")
    .attr("x1", d => x(d[0])).attr("x2", d => x(d[0])).attr("y1", d => v(d[1])).attr("y2", d => v(-d[2]))
    .attr("stroke", "#777").attr("stroke-width", 0.9);
}
function burst(g, data, x0, base) {
  const x = d3.scaleLinear().domain([0, 246]).range([x0, x0 + 59]);
  const y = d3.scaleLinear().domain([0, 1]).range([base, base - 9.3]);
  g.append("path").datum(data).attr("d", d3.line().x(d => x(d[0])).y(d => y(d[1])))
    .attr("fill", "none").attr("stroke", "#555").attr("stroke-width", 1.1);
}
const gt = svg.append("g");
txt(gt, "A", 6, 73, { ff: GILL, fs: 23, anchor: "start", fw: 300 });
txt(gt, "B", 6, 472, { ff: GILL, fs: 23, anchor: "start", fw: 300 });
txt(gt, "C", 0, 777, { ff: GILL, fs: 23, anchor: "start", fw: 300 });
txt(gt, "Control", 17, 178, { ff: GILL, fs: 11.5, anchor: "start" });
txt(gt, "DPH", 17, 235, { ff: GILL, fs: 11.5, anchor: "start" });
txt(gt, "20uM", 17, 249, { ff: GILL, fs: 11.5, anchor: "start" });
txt(gt, "Wash", 17, 311, { ff: GILL, fs: 11.5, anchor: "start" });
trace(gt, spikesA_ctrl, traceDurA[0], 69.3, 44, 174, 9.3);
trace(gt, spikesA_dph, traceDurA[1], 69.3, 44, 240.7, 9.3);
trace(gt, spikesA_wash, traceDurA[2], 69.3, 44, 305, 9.3);
burst(gt, burstA_ctrl, 269.3, 175);
burst(gt, burstA_dph, 269.3, 239.3);
burst(gt, burstA_wash, 269.3, 306.7);
// scale bars A
gt.append("path").attr("d", "M216,337V347.5H260").attr("fill", "none").attr("stroke", "#000").attr("stroke-width", 1.3);
gt.append("path").attr("d", "M283,337V347.5H295").attr("fill", "none").attr("stroke", "#000").attr("stroke-width", 1.3);
txt(gt, "1 mV", 223, 333, { fs: 10.5, anchor: "start" });
txt(gt, "1 min", 223, 344, { fs: 10.5, anchor: "start" });
txt(gt, "1 mV", 292, 333, { fs: 10.5, anchor: "start" });
txt(gt, "50 ms", 290, 344, { fs: 10.5, anchor: "start" });

// panel C traces
txt(gt, "Control", 31, 734, { ff: GILL, fs: 11.5, anchor: "start" });
txt(gt, "DPH", 31, 757, { ff: GILL, fs: 11.5, anchor: "start" });
txt(gt, "40uM", 31, 771, { ff: GILL, fs: 11.5, anchor: "start" });
txt(gt, "Wash", 31, 795, { ff: GILL, fs: 11.5, anchor: "start" });
trace(gt, spikesC_ctrl, traceDurC[0], 91, 44, 740, 9.3);
trace(gt, spikesC_dph, traceDurC[1], 91, 44, 770, 9.3);
trace(gt, spikesC_wash, traceDurC[2], 91, 44, 792, 9.3);

// evoked burst
const ex = d3.scaleLinear().domain([0, 1267]).range([242, 343]);
const ey = d3.scaleLinear().domain([0, 1]).range([839, 818]);
gt.append("path").datum(evoked).attr("d", d3.line().x(d => ex(d[0])).y(d => ey(d[1])))
  .attr("fill", "none").attr("stroke", "#111").attr("stroke-width", 1.5);
txt(gt, "Evoked burst", 287, 808, { fs: 12.5, fw: "bold" });
gt.append("path").attr("d", "M331.5,810V831H336").attr("fill", "none").attr("stroke", "#000").attr("stroke-width", 1.1);
txt(gt, "1 mV", 335, 817, { fs: 10.5, anchor: "start" });
txt(gt, "50 ms", 334, 828, { fs: 10.5, anchor: "start" });
const ax = ex(stimTime);
gt.append("path").attr("d", `M${ax},869L${ax - 6},883L${ax + 6},883Z`).attr("fill", "#000");
gt.append("line").attr("x1", ax).attr("x2", ax).attr("y1", 880).attr("y2", 898).attr("stroke", "#000").attr("stroke-width", 3);
</script>
</body></html>
